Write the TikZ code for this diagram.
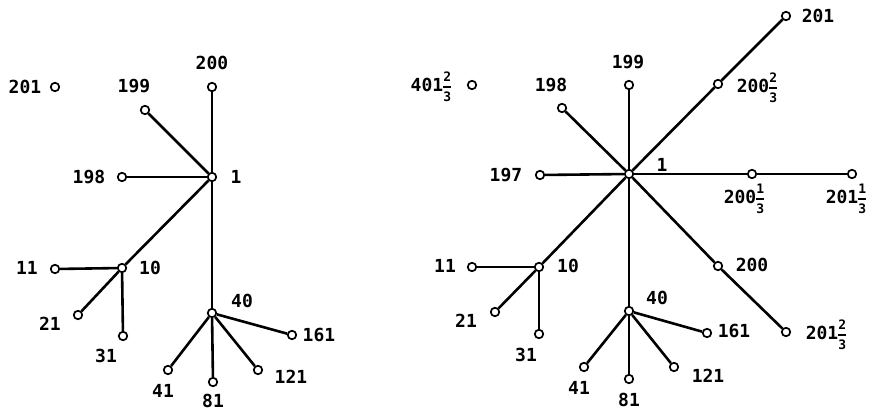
\documentclass[tikz,border=0pt]{standalone}
\usepackage{fontspec}
\setmainfont{DejaVu Sans Mono}
\newcommand{\fr}[2]{$\vcenter{\hbox{\fontsize{13}{13}\selectfont\bfseries\shortstack{#1\\[1.5pt]\rule{8pt}{1.4pt}\\[1.5pt]#2}}}$}
\begin{document}
\begin{tikzpicture}[x=1pt,y=-1pt,
  vtx/.style={circle,draw,fill=white,line width=1.7pt,minimum size=8.5pt,inner sep=0pt},
  lab/.style={inner sep=0pt,font=\fontsize{18}{20}\selectfont\bfseries},
  edge/.style={line width=2.6pt}]
\useasboundingbox (0,0) rectangle (873,412);
% ---------- left graph ----------
\node[vtx] (a201) at (55,87) {};
\node[vtx] (a199) at (145,110) {};
\node[vtx] (a200) at (212,87) {};
\node[vtx] (a1) at (212,177) {};
\node[vtx] (a198) at (122,177) {};
\node[vtx] (a10) at (122,268) {};
\node[vtx] (a11) at (55,269) {};
\node[vtx] (a21) at (78,315) {};
\node[vtx] (a31) at (123,336) {};
\node[vtx] (a40) at (212,313) {};
\node[vtx] (a161) at (292,335) {};
\node[vtx] (a41) at (168,370) {};
\node[vtx] (a81) at (213,382) {};
\node[vtx] (a121) at (258,370) {};
\foreach \u/\v in {a1/a200,a1/a199,a1/a198,a1/a10,a1/a40,a10/a11,a10/a21,a10/a31,a40/a41,a40/a81,a40/a121,a40/a161}
  \draw[edge] (\u) -- (\v);
\node[lab] (la201) at (25,87) {201};
\node[lab] (la199) at (134,86) {199};
\node[lab] (la200) at (212,63) {200};
\node[lab] (la1) at (236,177) {1};
\node[lab] (la198) at (89,177) {198};
\node[lab] (la10) at (150,268) {10};
\node[lab] (la11) at (27,268) {11};
\node[lab] (la21) at (50,324) {21};
\node[lab] (la31) at (106,356) {31};
\node[lab] (la40) at (242,301) {40};
\node[lab] (la161) at (319,335) {161};
\node[lab] (la41) at (163,391) {41};
\node[lab] (la81) at (213,401) {81};
\node[lab] (la121) at (291,377) {121};
% ---------- right graph ----------
\node[vtx] (b401) at (472,85) {};
\node[vtx] (b198) at (562,108) {};
\node[vtx] (b199) at (629,85) {};
\node[vtx] (b200t) at (718,84) {};
\node[vtx] (b201) at (786,16) {};
\node[vtx] (b1) at (629,174) {};
\node[vtx] (b197) at (540,175) {};
\node[vtx] (b200o) at (752,174) {};
\node[vtx] (b201o) at (852,174) {};
\node[vtx] (b10) at (539,267) {};
\node[vtx] (b11) at (472,267) {};
\node[vtx] (b21) at (495,312) {};
\node[vtx] (b31) at (539,334) {};
\node[vtx] (b40) at (629,311) {};
\node[vtx] (b161) at (707,333) {};
\node[vtx] (b41) at (584,367) {};
\node[vtx] (b81) at (629,379) {};
\node[vtx] (b121) at (674,367) {};
\node[vtx] (b200) at (718,266) {};
\node[vtx] (b201t) at (786,332) {};
\foreach \u/\v in {b1/b199,b1/b198,b1/b197,b1/b200t,b200t/b201,b1/b200o,b200o/b201o,b1/b10,b1/b40,b1/b200,b200/b201t,b10/b11,b10/b21,b10/b31,b40/b41,b40/b81,b40/b121,b40/b161}
  \draw[edge] (\u) -- (\v);
\node[lab] (lb401) at (431,87) {401\fr{2}{3}};
\node[lab] (lb198) at (551,85) {198};
\node[lab] (lb199) at (628,62) {199};
\node[lab] (lb200t) at (757,88) {200\fr{2}{3}};
\node[lab] (lb201) at (818,16) {201};
\node[lab] (lb1) at (662,165) {1};
\node[lab] (lb197) at (506,175) {197};
\node[lab] (lb200o) at (744,199) {200\fr{1}{3}};
\node[lab] (lb201o) at (846,199) {201\fr{1}{3}};
\node[lab] (lb10) at (568,266) {10};
\node[lab] (lb11) at (445,266) {11};
\node[lab] (lb21) at (466,321) {21};
\node[lab] (lb31) at (526,355) {31};
\node[lab] (lb40) at (657,298) {40};
\node[lab] (lb161) at (734,331) {161};
\node[lab] (lb41) at (579,388) {41};
\node[lab] (lb81) at (629,400) {81};
\node[lab] (lb121) at (708,376) {121};
\node[lab] (lb200) at (752,265) {200};
\node[lab] (lb201t) at (826,335) {201\fr{2}{3}};
\end{tikzpicture}
\end{document}
